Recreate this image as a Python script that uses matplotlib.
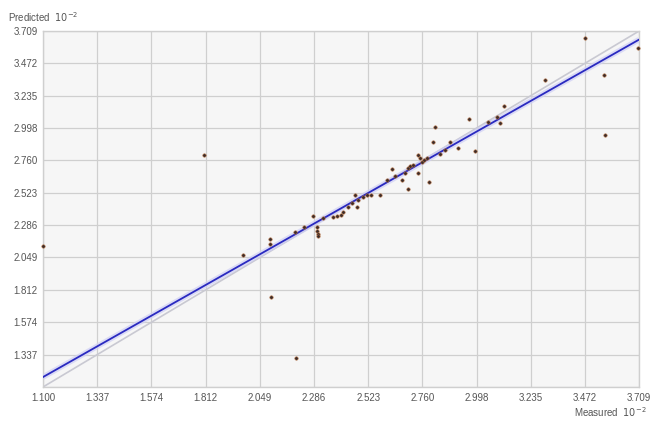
import matplotlib.pyplot as plt
import numpy as np

# measured vs predicted, units of 10^-2
measured = [1.100, 1.805, 1.976, 2.094, 2.094, 2.098, 2.208, 2.203, 2.243, 2.282,
            2.300, 2.300, 2.304, 2.304, 2.326, 2.370, 2.387, 2.405, 2.414, 2.435,
            2.453, 2.466, 2.475, 2.479, 2.501, 2.518, 2.536, 2.575, 2.606, 2.628,
            2.641, 2.672, 2.685, 2.698, 2.698, 2.707, 2.720, 2.742, 2.742, 2.751,
            2.759, 2.768, 2.781, 2.790, 2.807, 2.816, 2.838, 2.860, 2.882, 2.917,
            2.965, 2.991, 3.048, 3.088, 3.101, 3.118, 3.298, 3.473, 3.556, 3.560,
            3.705]
predicted = [2.133, 2.800, 2.067, 2.185, 2.148, 1.760, 1.313, 2.236, 2.273, 2.353,
             2.273, 2.243, 2.221, 2.207, 2.339, 2.346, 2.353, 2.361, 2.383, 2.419,
             2.449, 2.507, 2.419, 2.471, 2.493, 2.507, 2.507, 2.507, 2.617, 2.698,
             2.646, 2.617, 2.668, 2.705, 2.551, 2.720, 2.727, 2.800, 2.668, 2.778,
             2.749, 2.764, 2.778, 2.602, 2.896, 3.006, 2.808, 2.837, 2.896, 2.852,
             3.064, 2.830, 3.042, 3.079, 3.035, 3.159, 3.350, 3.658, 3.387, 2.947,
             3.585]

# regression line
fit_slope = 0.948
fit_intercept = 0.130

lo, hi = 1.100, 3.709
ticks = [1.100, 1.337, 1.574, 1.812, 2.049, 2.286, 2.523, 2.760, 2.998, 3.235, 3.472, 3.709]
tick_labels = ['1.100', '1.337', '1.574', '1.812', '2.049', '2.286', '2.523', '2.760',
               '2.998', '3.235', '3.472', '3.709']

plt.rcParams['font.family'] = ['Liberation Sans', 'DejaVu Sans']

fig = plt.figure(figsize=(6.5, 4.22), dpi=100)
ax = fig.add_axes([0.0662, 0.083, 0.917, 0.8435])
ax.set_facecolor('#f6f6f6')

ax.set_xlim(lo, hi)
ax.set_ylim(lo, hi)
ax.set_xticks(ticks)
ax.set_xticklabels(tick_labels)
ax.set_yticks(ticks)
ax.set_yticklabels([''] + tick_labels[1:])
ax.tick_params(length=0, labelsize=7, colors='#555555', pad=4)
ax.grid(True, color='#cfcfcf', linewidth=0.9)
ax.set_axisbelow(True)
for s in ax.spines.values():
    s.set_color('#cfcfcf')
    s.set_linewidth(1)

# identity line
ax.plot([lo, hi], [lo, hi], color='#c9c9d2', linewidth=1.2, zorder=2)

# fitted line with faint halo
xs = np.array([lo, hi])
ys = fit_intercept + fit_slope * xs
ax.plot(xs, ys, color='#cfcff5', linewidth=4, alpha=0.7, zorder=3, solid_capstyle='butt')
ax.plot(xs, ys, color='#2a2ac0', linewidth=1.3, zorder=4)

ax.scatter(measured, predicted, s=6, color='#3a2c2c', edgecolors='#b8703c',
           linewidths=0.4, zorder=5, clip_on=False)

fig.text(0.012, 0.975, r'Predicted  $10^{-2}$', fontsize=7, color='#555555',
         ha='left', va='top')
fig.text(0.995, 0.008, r'Measured  $10^{-2}$', fontsize=7, color='#555555',
         ha='right', va='bottom')

fig.savefig('out.png', dpi=100)
